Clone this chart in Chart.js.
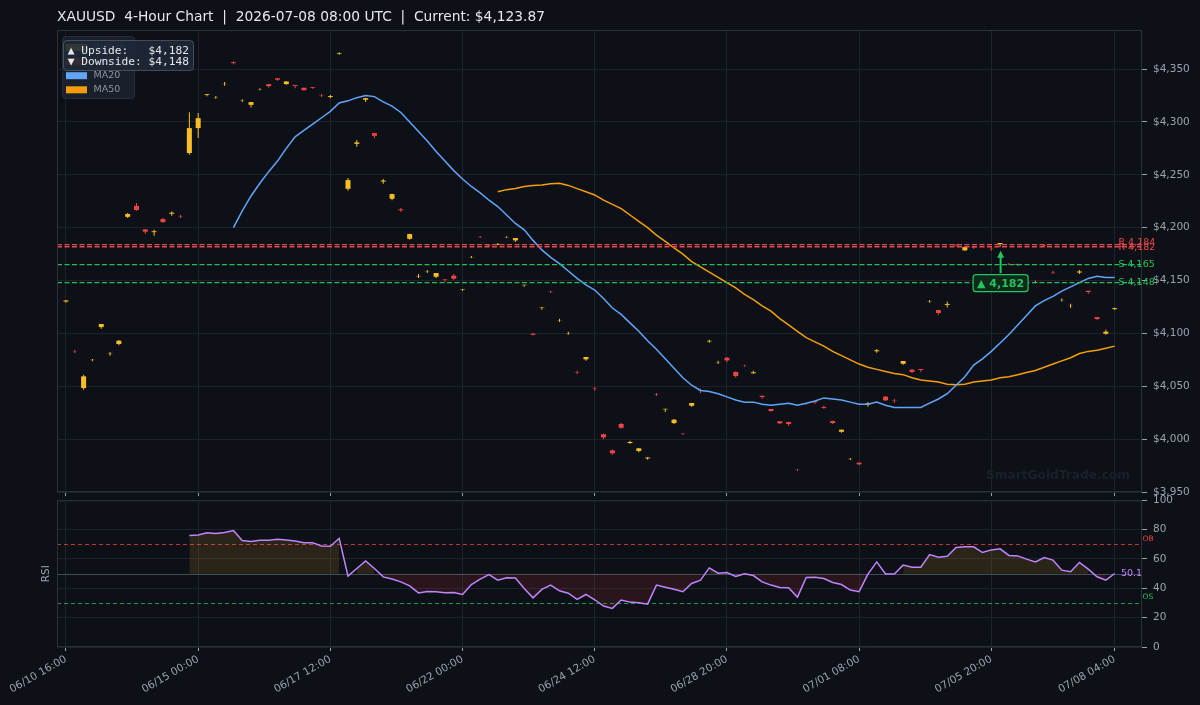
<!DOCTYPE html>
<html>
<head>
<meta charset="utf-8">
<title>XAUUSD 4-Hour Chart</title>
<script src="https://cdn.jsdelivr.net/npm/chart.js@4.4.1/dist/chart.umd.min.js"></script>
<style>
  html, body { margin: 0; padding: 0; background: #0d1117; }
  #wrap { position: relative; width: 1200px; height: 705px; overflow: hidden; background: #0d1117; }
  #price-chart { position: absolute; left: 0; top: 0; }
  #rsi-chart { position: absolute; left: 0; top: 488px; }
</style>
</head>
<body>
<div id="wrap">
  <canvas id="price-chart" width="1200" height="505"></canvas>
  <canvas id="rsi-chart" width="1200" height="217"></canvas>
</div>
<script>
// --- data (bar index 0..119, 4h bars) ---
const opens = [
  4130.2, 4083.2, 4048.3, 4074.8, 4106.0, 4080.5, 4090.0, 4210.3, 4220.7, 4198.4,
  4195.8, 4208.2, 4213.2, 4210.8, 4270.6, 4294.2, 4325.6, 4323.2, 4335.8, 4356.5,
  4320.1, 4316.2, 4331.0, 4335.8, 4341.3, 4335.8, 4334.9, 4332.3, 4333.0, 4325.2,
  4323.6, 4364.5, 4236.8, 4279.3, 4321.0, 4289.5, 4243.6, 4227.4, 4217.4, 4189.5,
  4154.0, 4158.4, 4153.6, 4151.4, 4154.6, 4141.6, 4172.0, 4191.3, 4183.4, 4183.9,
  4190.9, 4188.0, 4145.6, 4099.7, 4124.6, 4139.4, 4112.2, 4100.1, 4063.3, 4075.5,
  4047.8, 4004.6, 3989.4, 4014.3, 3996.3, 3988.8, 3981.8, 4042.4, 4028.2, 4015.2,
  4005.1, 4031.6, 4045.9, 4092.4, 4072.5, 4077.0, 4063.5, 4069.6, 4062.3, 4041.0,
  4028.5, 4016.9, 4016.2, 3971.0, 4033.5, 4035.7, 4030.4, 4017.1, 4007.0, 3981.1,
  3977.7, 4032.7, 4083.1, 4040.2, 4036.4, 4071.3, 4065.7, 4066.3, 4130.2, 4122.1,
  4127.0, 4183.6, 4178.6, 4181.4, 4150.0, 4180.0, 4184.6, 4165.7, 4164.7, 4182.6,
  4148.4, 4183.4, 4158.0, 4131.5, 4125.9, 4157.6, 4140.3, 4115.5, 4099.7, 4123.0
];
const highs = [
  4131.3, 4084.6, 4061.0, 4075.8, 4109.0, 4082.4, 4093.7, 4213.8, 4223.3, 4198.7,
  4198.1, 4209.1, 4215.4, 4212.0, 4309.3, 4308.4, 4326.4, 4324.5, 4337.7, 4357.3,
  4321.5, 4318.8, 4332.0, 4336.0, 4341.5, 4338.6, 4335.0, 4332.7, 4333.1, 4326.4,
  4325.4, 4366.0, 4246.9, 4282.9, 4322.8, 4289.8, 4246.0, 4232.0, 4218.6, 4194.2,
  4156.1, 4160.0, 4157.2, 4151.5, 4156.1, 4142.0, 4173.2, 4192.1, 4184.2, 4185.5,
  4191.8, 4190.3, 4146.1, 4100.3, 4125.1, 4140.4, 4113.9, 4101.6, 4064.7, 4077.8,
  4049.3, 4005.1, 3990.0, 4015.2, 3998.5, 3991.6, 3983.1, 4043.6, 4028.8, 4019.0,
  4005.9, 4034.3, 4047.7, 4094.0, 4074.2, 4077.7, 4064.1, 4070.4, 4064.7, 4041.1,
  4028.6, 4017.0, 4016.4, 3971.7, 4034.2, 4035.8, 4031.9, 4017.3, 4009.0, 3982.2,
  3977.8, 4035.1, 4085.2, 4040.8, 4038.2, 4074.0, 4066.3, 4066.4, 4131.6, 4122.4,
  4130.3, 4184.3, 4181.8, 4182.3, 4151.5, 4181.4, 4185.6, 4166.5, 4165.8, 4183.0,
  4149.8, 4184.0, 4159.3, 4133.0, 4128.0, 4159.9, 4140.4, 4115.6, 4103.5, 4124.2
];
const lows = [
  4129.0, 4081.4, 4046.7, 4073.6, 4104.4, 4078.9, 4088.7, 4209.1, 4216.0, 4194.3,
  4192.4, 4204.7, 4211.3, 4209.1, 4269.0, 4284.8, 4324.4, 4322.0, 4334.2, 4354.7,
  4319.0, 4313.8, 4330.1, 4332.7, 4339.0, 4335.2, 4332.0, 4329.5, 4331.4, 4323.6,
  4322.5, 4363.5, 4234.9, 4276.5, 4319.0, 4284.7, 4241.5, 4226.0, 4214.8, 4188.6,
  4152.4, 4157.1, 4152.4, 4148.6, 4150.8, 4140.4, 4171.3, 4190.2, 4182.2, 4183.3,
  4190.2, 4186.4, 4144.1, 4098.2, 4122.4, 4138.2, 4110.8, 4098.7, 4061.6, 4074.2,
  4045.8, 4000.1, 3985.3, 4009.9, 3995.7, 3987.5, 3980.5, 4040.8, 4025.6, 4014.3,
  4004.0, 4030.4, 4043.6, 4091.2, 4071.0, 4072.7, 4058.2, 4068.5, 4061.8, 4038.2,
  4025.9, 4014.3, 4012.4, 3969.9, 4032.6, 4033.5, 4028.8, 4014.3, 4006.1, 3980.3,
  3975.2, 4030.7, 4081.7, 4036.0, 4034.2, 4070.4, 4062.5, 4063.5, 4129.0, 4117.7,
  4124.6, 4182.4, 4177.9, 4180.1, 4148.8, 4178.2, 4182.3, 4164.4, 4163.9, 4181.8,
  4147.4, 4182.2, 4156.1, 4130.3, 4124.0, 4156.1, 4137.2, 4112.6, 4098.8, 4122.2
];
const closes = [
  4131.2, 4083.0, 4059.4, 4075.0, 4108.9, 4080.8, 4093.1, 4212.9, 4216.7, 4196.2,
  4196.6, 4205.3, 4214.2, 4210.5, 4294.2, 4303.6, 4326.3, 4323.4, 4336.0, 4355.7,
  4320.3, 4318.8, 4331.2, 4333.9, 4340.0, 4338.3, 4334.0, 4330.1, 4332.3, 4324.9,
  4324.5, 4365.1, 4245.0, 4280.7, 4322.5, 4286.9, 4244.6, 4231.8, 4216.5, 4194.0,
  4154.3, 4158.6, 4157.1, 4150.9, 4151.7, 4142.0, 4172.2, 4191.1, 4183.0, 4184.6,
  4191.1, 4190.2, 4146.0, 4098.7, 4125.0, 4139.1, 4112.4, 4100.3, 4063.0, 4077.7,
  4047.5, 4001.7, 3986.6, 4010.8, 3997.3, 3991.3, 3982.6, 4042.1, 4028.7, 4018.4,
  4004.9, 4034.2, 4045.6, 4093.0, 4072.7, 4074.5, 4059.7, 4069.4, 4063.2, 4039.9,
  4026.6, 4015.0, 4014.3, 3970.8, 4033.3, 4034.8, 4029.6, 4015.2, 4008.9, 3981.3,
  3976.2, 4033.7, 4084.0, 4036.7, 4036.1, 4073.9, 4063.5, 4065.4, 4130.4, 4119.3,
  4127.9, 4183.1, 4181.7, 4181.1, 4150.3, 4179.7, 4185.5, 4165.4, 4165.3, 4182.3,
  4148.6, 4183.0, 4157.7, 4131.7, 4126.1, 4158.6, 4139.2, 4113.6, 4101.6, 4123.87
];

// MA20 starts at bar 19, MA50 at bar 49
const ma20Start = 19;
const ma20 = [
  4200, 4216, 4230, 4242, 4253, 4263, 4275, 4286, 4292, 4298,
  4304, 4310, 4318, 4320, 4323, 4325, 4324, 4319, 4315, 4309,
  4300, 4291, 4282, 4272, 4263, 4254, 4246, 4239, 4233, 4226,
  4220, 4212, 4204, 4198, 4188, 4179, 4172, 4166, 4159, 4152,
  4146, 4141, 4133, 4124, 4118, 4110, 4102, 4093, 4085, 4076,
  4067, 4058, 4051, 4046, 4045, 4043, 4040, 4037, 4035, 4035,
  4033, 4032, 4033, 4034, 4032, 4034, 4036, 4039, 4038, 4037,
  4035, 4033, 4033, 4035, 4032, 4030, 4030, 4030, 4030, 4034,
  4038, 4043, 4051, 4059, 4070, 4076, 4083, 4091, 4099, 4108,
  4117, 4126, 4131, 4135, 4140, 4144, 4148, 4152, 4154, 4153,
  4153
];
const ma50Start = 49;
const ma50 = [
  4234, 4236, 4237, 4239, 4240, 4240.5, 4241.5, 4242, 4240, 4237,
  4234, 4231, 4226, 4222, 4218, 4212, 4206, 4200, 4193, 4187,
  4181, 4175, 4168, 4163, 4158, 4153, 4148, 4143, 4137, 4132,
  4126, 4121, 4114, 4108, 4102, 4096, 4092, 4088, 4083, 4079,
  4075, 4071, 4068, 4066, 4064, 4062, 4061, 4058, 4056, 4055,
  4054, 4052, 4051.5, 4052, 4054, 4055, 4056, 4058, 4059, 4061,
  4063, 4065, 4068, 4071, 4074, 4077, 4081, 4083, 4084, 4086,
  4088
];

// RSI(14) starts at bar 14
const rsiStart = 14;
const rsi = [
  76.0, 76.4, 77.8, 77.3, 78.0, 79.4, 72.6, 71.9, 72.8, 72.8,
  73.5, 73.0, 72.3, 71.0, 71.0, 68.9, 68.7, 74.1, 48.3, 53.5,
  58.7, 53.5, 47.8, 46.3, 44.4, 41.7, 36.9, 37.8, 37.6, 36.9,
  37.1, 35.8, 42.6, 46.3, 49.4, 45.5, 47.2, 47.0, 39.9, 33.5,
  39.3, 42.2, 38.3, 36.7, 32.4, 35.8, 32.2, 27.9, 26.3, 32.0,
  30.6, 30.1, 29.2, 42.2, 40.8, 39.3, 37.7, 43.3, 45.6, 53.9,
  50.3, 50.8, 48.1, 49.9, 48.7, 44.4, 42.2, 40.6, 40.4, 34.0,
  47.4, 47.6, 46.7, 44.0, 42.6, 38.8, 37.7, 49.7, 58.0, 49.8,
  49.8, 55.8, 54.4, 54.4, 63.0, 61.2, 61.9, 67.8, 68.3, 68.3,
  64.4, 66.2, 66.9, 62.4, 62.1, 59.9, 58.0, 61.0, 59.2, 52.4,
  51.3, 57.6, 53.1, 47.9, 45.6, 50.1
];

const tickIdx = [0, 15, 30, 45, 60, 75, 90, 105, 119];
const tickLabels = ['06/10 16:00', '06/15 00:00', '06/17 12:00', '06/22 00:00', '06/24 12:00',
                    '06/28 20:00', '07/01 08:00', '07/05 20:00', '07/08 04:00'];

const levels = [4184, 4182, 4165, 4148];
const levelKinds = ['R', 'R', 'S', 'S'];
const upsideTarget = 4182;
const downsideTarget = 4148;
const currentPrice = 4123.87;
const signalBar = 106;

// --- styling ---
const BG = '#0d1117';
const GRID = '#1d222b';
const FRAME = '#2a313c';
const AXIS_TEXT = '#9aa2ae';
const UP = '#fbbf24';
const DOWN = '#ef4444';
const GREEN = '#22c55e';
const FONT = '"DejaVu Sans", sans-serif';
const X_MIN = -1.02, X_MAX = 122.1;

Chart.defaults.font.family = FONT;

const fmtPrice = v => '$' + v.toLocaleString('en-US');
const fmtLevel = v => v.toLocaleString('en-US');

function setXTicks(scale) {
  scale.ticks = tickIdx.map(v => ({ value: v }));
}

function roundRect(ctx, x, y, w, h, r) {
  ctx.beginPath();
  ctx.moveTo(x + r, y);
  ctx.lineTo(x + w - r, y);
  ctx.quadraticCurveTo(x + w, y, x + w, y + r);
  ctx.lineTo(x + w, y + h - r);
  ctx.quadraticCurveTo(x + w, y + h, x + w - r, y + h);
  ctx.lineTo(x + r, y + h);
  ctx.quadraticCurveTo(x, y + h, x, y + h - r);
  ctx.lineTo(x, y + r);
  ctx.quadraticCurveTo(x, y, x + r, y);
  ctx.closePath();
}

function drawFrame(chart) {
  const { ctx, chartArea: a } = chart;
  ctx.save();
  ctx.strokeStyle = FRAME;
  ctx.lineWidth = 1;
  ctx.strokeRect(a.left + 0.5, a.top + 0.5, a.right - a.left - 1, a.bottom - a.top - 1);
  ctx.restore();
}

// --- price pane ---
const idx = opens.map((_, i) => i);
const candleColors = idx.map(i => closes[i] >= opens[i] ? UP : DOWN);
const wickData = idx.map(i => ({ x: i, y: [lows[i], highs[i]] }));
const bodyData = idx.map(i => ({ x: i, y: [opens[i], closes[i]] }));
const ma20Pts = ma20.map((v, k) => ({ x: k + ma20Start, y: v }));
const ma50Pts = ma50.map((v, k) => ({ x: k + ma50Start, y: v }));

const pricePane = {
  id: 'pricePane',
  beforeDraw(chart) {
    const c = chart.ctx;
    c.save();
    c.fillStyle = BG;
    c.fillRect(0, 0, chart.width, chart.height);
    c.restore();
  },
  beforeDatasetsDraw(chart) {
    const { ctx, chartArea: a } = chart;
    ctx.save();
    ctx.font = 'bold 12.2px ' + FONT;
    ctx.fillStyle = '#1a202a';
    ctx.textAlign = 'center';
    ctx.textBaseline = 'middle';
    ctx.fillText('SmartGoldTrade.com', a.right - 84, a.bottom - 16);
    ctx.restore();
  },
  afterDatasetsDraw(chart) {
    const { ctx, chartArea: a, scales: { y } } = chart;
    levels.forEach((lv, k) => {
      const py = y.getPixelForValue(lv);
      ctx.save();
      ctx.strokeStyle = levelKinds[k] === 'R' ? '#e5484d' : '#1fbf5a';
      ctx.lineWidth = 1.3;
      ctx.setLineDash([5, 2.5]);
      ctx.beginPath();
      ctx.moveTo(a.left, py);
      ctx.lineTo(a.right, py);
      ctx.stroke();
      ctx.restore();
    });
  },
  afterDraw(chart) {
    const { ctx, chartArea: a, scales: { x, y } } = chart;
    drawFrame(chart);

    // title
    ctx.save();
    ctx.font = '13.8px ' + FONT;
    ctx.fillStyle = '#e4e7eb';
    ctx.textBaseline = 'middle';
    ctx.fillText('XAUUSD  4-Hour Chart  |  2026-07-08 08:00 UTC  |  Current: $' +
      currentPrice.toLocaleString('en-US', { minimumFractionDigits: 2 }), 57, 17);
    ctx.restore();

    // level labels on the right edge
    const nudge = [-2, 1, 0, 0];
    ctx.save();
    ctx.font = '9.5px ' + FONT;
    ctx.textBaseline = 'middle';
    levels.forEach((lv, k) => {
      ctx.fillStyle = levelKinds[k] === 'R' ? DOWN : GREEN;
      ctx.fillText(levelKinds[k] + ' ' + fmtLevel(lv), a.right - 23.5, y.getPixelForValue(lv) + nudge[k]);
    });
    ctx.restore();

    // signal arrow + box
    const sx = x.getPixelForValue(signalBar) + 0.5;
    const tipY = y.getPixelForValue(lows[signalBar] - 4);
    const boxCy = y.getPixelForValue(downsideTarget) + 0.5;
    ctx.save();
    ctx.strokeStyle = GREEN;
    ctx.fillStyle = GREEN;
    ctx.lineWidth = 2;
    ctx.beginPath();
    ctx.moveTo(sx, boxCy - 10);
    ctx.lineTo(sx, tipY + 5);
    ctx.stroke();
    ctx.beginPath();
    ctx.moveTo(sx, tipY);
    ctx.lineTo(sx - 3.5, tipY + 7);
    ctx.lineTo(sx + 3.5, tipY + 7);
    ctx.closePath();
    ctx.fill();
    roundRect(ctx, sx - 27.5, boxCy - 8.5, 55, 17, 3);
    ctx.fillStyle = '#0f2a1b';
    ctx.fill();
    ctx.lineWidth = 1.2;
    ctx.stroke();
    ctx.fillStyle = GREEN;
    ctx.font = 'bold 11px ' + FONT;
    ctx.textAlign = 'center';
    ctx.textBaseline = 'middle';
    ctx.fillText('\u25B2 ' + fmtLevel(upsideTarget), sx, boxCy + 0.5);
    ctx.restore();

    // legend
    const legendNames = ['Bullish', 'Bearish', 'MA20', 'MA50'];
    const legendColors = [UP, DOWN, '#60a5fa', '#f59e0b'];
    ctx.save();
    roundRect(ctx, 62.5, 36.5, 72, 62, 3);
    ctx.fillStyle = 'rgba(27,33,45,0.95)';
    ctx.fill();
    ctx.strokeStyle = '#262d39';
    ctx.lineWidth = 1;
    ctx.stroke();
    ctx.font = '9.5px ' + FONT;
    ctx.textBaseline = 'middle';
    legendNames.forEach((name, k) => {
      const cy = 47.5 + k * 14.1;
      ctx.fillStyle = legendColors[k];
      ctx.fillRect(66, cy - 3.5, 21, 7);
      ctx.fillStyle = '#8c95a2';
      ctx.fillText(name, 93.5, cy);
    });
    ctx.restore();

    // targets box
    ctx.save();
    roundRect(ctx, 63.5, 40.5, 130, 30, 3.5);
    ctx.fillStyle = 'rgba(30,40,55,0.9)';
    ctx.fill();
    ctx.strokeStyle = 'rgba(100,116,139,0.55)';
    ctx.lineWidth = 1;
    ctx.stroke();
    ctx.font = '11.2px "DejaVu Sans Mono", monospace';
    ctx.fillStyle = '#e5e7eb';
    ctx.textBaseline = 'middle';
    ctx.fillText('\u25B2 Upside:   ' + fmtPrice(upsideTarget), 67.7, 50.7);
    ctx.fillText('\u25BC Downside: ' + fmtPrice(downsideTarget), 67.7, 62.3);
    ctx.restore();
  }
};

new Chart(document.getElementById('price-chart'), {
  type: 'bar',
  data: {
    datasets: [
      { type: 'line', label: 'MA20', data: ma20Pts, borderColor: '#60a5fa', borderWidth: 1.5,
        pointRadius: 0, tension: 0, fill: false, order: 0 },
      { type: 'line', label: 'MA50', data: ma50Pts, borderColor: '#f59e0b', borderWidth: 1.5,
        pointRadius: 0, tension: 0, fill: false, order: 1 },
      { label: 'Body', data: bodyData, backgroundColor: candleColors, barThickness: 5,
        grouped: false, inflateAmount: 0, borderWidth: 0, order: 2 },
      { label: 'Wick', data: wickData, backgroundColor: candleColors, barThickness: 1,
        grouped: false, inflateAmount: 0, borderWidth: 0, order: 3 }
    ]
  },
  options: {
    responsive: false,
    animation: false,
    devicePixelRatio: 1,
    layout: { autoPadding: false, padding: { top: 30, left: 57, right: 0, bottom: 0 } },
    plugins: { legend: { display: false }, tooltip: { enabled: false } },
    scales: {
      x: {
        type: 'linear', min: X_MIN, max: X_MAX, offset: false,
        afterBuildTicks: setXTicks,
        afterFit: s => { s.height = 13; },
        ticks: { display: false },
        grid: { color: GRID, tickColor: AXIS_TEXT, tickLength: 4, offset: false },
        border: { display: false }
      },
      y: {
        position: 'right', min: 3950, max: 4387,
        afterBuildTicks: s => { s.ticks = s.ticks.filter(t => t.value % 50 === 0); },
        afterFit: s => { s.width = 58; },
        ticks: { stepSize: 50, color: AXIS_TEXT, font: { size: 10.5 }, padding: 6, callback: v => fmtPrice(v) },
        grid: { color: GRID, tickColor: AXIS_TEXT, tickLength: 5 },
        border: { display: false }
      }
    }
  },
  plugins: [pricePane]
});

// --- RSI pane (transparent canvas laid over the bottom of the price canvas) ---
const rsiPts = rsi.map((v, k) => ({ x: k + rsiStart, y: v }));
const rsiBullPts = rsi.map((v, k) => ({ x: k + rsiStart, y: v >= 50 ? v : null }));
const rsiBearPts = rsi.map((v, k) => ({ x: k + rsiStart, y: v < 50 ? v : null }));

const rsiPane = {
  id: 'rsiPane',
  beforeDraw(chart) {
    const { ctx, chartArea: a } = chart;
    ctx.save();
    ctx.fillStyle = BG;
    ctx.fillRect(0, a.top, chart.width, chart.height - a.top);
    ctx.restore();
  },
  beforeDatasetsDraw(chart) {
    const { ctx, chartArea: a, scales: { y } } = chart;
    const hline = (v, color, dash, alpha) => {
      const py = Math.round(y.getPixelForValue(v)) + 0.5;
      ctx.save();
      ctx.strokeStyle = color;
      ctx.globalAlpha = alpha;
      ctx.lineWidth = 1;
      ctx.setLineDash(dash);
      ctx.beginPath();
      ctx.moveTo(a.left, py);
      ctx.lineTo(a.right, py);
      ctx.stroke();
      ctx.restore();
    };
    hline(50, '#4a5260', [], 0.9);
    hline(70, DOWN, [4, 3], 0.75);
    hline(30, GREEN, [4, 3], 0.75);
  },
  afterDraw(chart) {
    const { ctx, chartArea: a, scales: { y } } = chart;
    drawFrame(chart);
    ctx.save();
    ctx.textBaseline = 'middle';
    ctx.font = '7.5px ' + FONT;
    ctx.fillStyle = DOWN;
    ctx.fillText('OB', a.right + 0.5, y.getPixelForValue(70) - 5.5);
    ctx.fillStyle = GREEN;
    ctx.fillText('OS', a.right + 0.5, y.getPixelForValue(30) - 5.5);
    const last = rsi[rsi.length - 1];
    ctx.font = '9.5px ' + FONT;
    ctx.fillStyle = '#c084fc';
    ctx.fillText(last.toFixed(1), a.right - 21, y.getPixelForValue(last));
    ctx.translate(46, (a.top + a.bottom) / 2);
    ctx.rotate(-Math.PI / 2);
    ctx.textAlign = 'center';
    ctx.font = '10.5px ' + FONT;
    ctx.fillStyle = AXIS_TEXT;
    ctx.fillText('RSI', 0, 0);
    ctx.restore();
  }
};

new Chart(document.getElementById('rsi-chart'), {
  type: 'line',
  data: {
    datasets: [
      { label: 'RSI', data: rsiPts, borderColor: '#c084fc', borderWidth: 1.5, pointRadius: 0,
        tension: 0, fill: false, order: 0 },
      { label: 'RSI bull', data: rsiBullPts, borderColor: 'rgba(0,0,0,0)', borderWidth: 0,
        backgroundColor: 'rgba(251,191,36,0.12)', pointRadius: 0, spanGaps: false,
        fill: { value: 50 }, order: 1 },
      { label: 'RSI bear', data: rsiBearPts, borderColor: 'rgba(0,0,0,0)', borderWidth: 0,
        backgroundColor: 'rgba(239,68,68,0.12)', pointRadius: 0, spanGaps: false,
        fill: { value: 50 }, order: 2 }
    ]
  },
  options: {
    responsive: false,
    animation: false,
    devicePixelRatio: 1,
    layout: { autoPadding: false, padding: { top: 10, left: 57, right: 0, bottom: 0 } },
    plugins: { legend: { display: false }, tooltip: { enabled: false } },
    scales: {
      x: {
        type: 'linear', min: X_MIN, max: X_MAX, offset: false,
        afterBuildTicks: setXTicks,
        afterFit: s => { s.height = 58; },
        ticks: {
          color: AXIS_TEXT, font: { size: 10.5 }, minRotation: 30, maxRotation: 30,
          autoSkip: false, padding: 2,
          callback: v => tickLabels[tickIdx.indexOf(v)]
        },
        grid: { color: GRID, tickColor: AXIS_TEXT, tickLength: 4, offset: false },
        border: { display: false }
      },
      y: {
        position: 'right', min: 0, max: 100,
        afterFit: s => { s.width = 58; },
        ticks: { stepSize: 20, color: AXIS_TEXT, font: { size: 10.5 }, padding: 6 },
        grid: { color: GRID, tickColor: AXIS_TEXT, tickLength: 5 },
        border: { display: false }
      }
    }
  },
  plugins: [rsiPane]
});
</script>
</body>
</html>
